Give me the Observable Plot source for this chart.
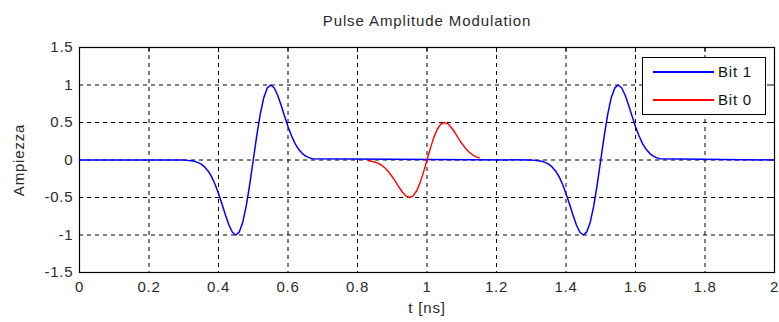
<!DOCTYPE html>
<html>
<head>
<meta charset="utf-8">
<script src="https://cdn.jsdelivr.net/npm/d3@7"></script>
<script src="https://cdn.jsdelivr.net/npm/@observablehq/plot@0.6"></script>
<style>
  html, body { margin: 0; padding: 0; background: #fff; }
  #wrap { position: relative; width: 779px; height: 322px; font-family: "Liberation Sans", Arial, sans-serif; }
  #title { position: absolute; left: 0; width: 854px; top: 12px; text-align: center; font-size: 15px; letter-spacing: 0.9px; color: #2a2a2a; }
  #legend { position: absolute; left: 642px; top: 57px; width: 124px; height: 58px; border: 1px solid #000; background: #fff; box-sizing: border-box; }
  .row { position: absolute; left: 0; height: 20px; width: 100%; }
  .sw { position: absolute; left: 10px; width: 61px; top: 9px; height: 1.5px; }
  .lb { position: absolute; left: 75px; top: 1px; font-size: 15px; letter-spacing: 0.8px; color: #111; }
</style>
</head>
<body>
<div id="wrap">
  <div id="chart"></div>
  <div id="title">Pulse Amplitude Modulation</div>
  <div id="legend"></div>
</div>
<script>
// ---- data ----
const xTicks = [0, 0.2, 0.4, 0.6, 0.8, 1, 1.2, 1.4, 1.6, 1.8, 2];
const yTicks = [-1.5, -1, -0.5, 0, 0.5, 1, 1.5];
const seriesNames = ["Bit 1", "Bit 0"];
const seriesColors = ["#0000ff", "#ff0000"];

// Bit 1 signal (blue): baseline plus two pulses
const bit1T = [0, 0.30,
  0.31, 0.32, 0.33, 0.34, 0.35, 0.36, 0.37, 0.38, 0.39, 0.40, 0.41, 0.42, 0.43, 0.44, 0.45, 0.46, 0.47, 0.48, 0.49,
  0.50, 0.51, 0.52, 0.53, 0.54, 0.55, 0.56, 0.57, 0.58, 0.59, 0.60, 0.61, 0.62, 0.63, 0.64, 0.65, 0.66, 0.67,
  1.30,
  1.31, 1.32, 1.33, 1.34, 1.35, 1.36, 1.37, 1.38, 1.39, 1.40, 1.41, 1.42, 1.43, 1.44, 1.45, 1.46, 1.47, 1.48, 1.49,
  1.50, 1.51, 1.52, 1.53, 1.54, 1.55, 1.56, 1.57, 1.58, 1.59, 1.60, 1.61, 1.62, 1.63, 1.64, 1.65, 1.66, 1.67,
  2];
const bit1Y = [0, 0,
  -0.005, -0.009, -0.017, -0.032, -0.055, -0.092, -0.146, -0.222, -0.323, -0.446, -0.587, -0.733, -0.866, -0.963, -1.0, -0.958, -0.826, -0.609, -0.323,
  0, 0.323, 0.609, 0.826, 0.958, 1.0, 0.963, 0.866, 0.733, 0.587, 0.446, 0.323, 0.222, 0.146, 0.092, 0.055, 0.032, 0.017,
  0,
  -0.005, -0.009, -0.017, -0.032, -0.055, -0.092, -0.146, -0.222, -0.323, -0.446, -0.587, -0.733, -0.866, -0.963, -1.0, -0.958, -0.826, -0.609, -0.323,
  0, 0.323, 0.609, 0.826, 0.958, 1.0, 0.963, 0.866, 0.733, 0.587, 0.446, 0.323, 0.222, 0.146, 0.092, 0.055, 0.032, 0.017,
  0];

// Bit 0 pulse (red)
const bit0T = [0.83, 0.84, 0.85, 0.86, 0.87, 0.88, 0.89, 0.90, 0.91, 0.92, 0.93, 0.94, 0.95, 0.96, 0.97, 0.98, 0.99,
  1.00, 1.01, 1.02, 1.03, 1.04, 1.05, 1.06, 1.07, 1.08, 1.09, 1.10, 1.11, 1.12, 1.13, 1.14, 1.15];
const bit0Y = [-0.009, -0.016, -0.027, -0.046, -0.073, -0.111, -0.161, -0.223, -0.293, -0.367, -0.433, -0.482, -0.5, -0.479, -0.413, -0.305, -0.162,
  0, 0.162, 0.305, 0.413, 0.479, 0.5, 0.482, 0.433, 0.367, 0.293, 0.223, 0.161, 0.111, 0.073, 0.046, 0.027];

const bit1 = bit1T.map((t, i) => ({t, v: bit1Y[i]}));
const bit0 = bit0T.map((t, i) => ({t, v: bit0Y[i]}));

const grid = {stroke: "black", strokeOpacity: 1, strokeWidth: 1, strokeDasharray: "4,4"};

const chart = Plot.plot({
  width: 779,
  height: 322,
  marginTop: 47,
  marginRight: 5,
  marginBottom: 50,
  marginLeft: 79,
  style: {fontFamily: "Liberation Sans, Arial, sans-serif", fontSize: "15px", letterSpacing: "0.8px", color: "#2a2a2a", background: "white"},
  x: {domain: [0, 2]},
  y: {domain: [-1.5, 1.5]},
  marks: [
    Plot.gridX(xTicks, grid),
    Plot.gridY(yTicks, grid),
    Plot.axisX(xTicks, {anchor: "top", tickSize: -4, tickFormat: () => "", label: null, stroke: "black"}),
    Plot.axisY(yTicks, {anchor: "right", tickSize: -4, tickFormat: () => "", label: null, stroke: "black"}),
    Plot.axisX(xTicks, {anchor: "bottom", tickSize: 0, tickPadding: 9, tickFormat: d => String(d), fontSize: 15,
      label: "t [ns]", labelAnchor: "center", labelArrow: "none", labelOffset: 40}),
    Plot.axisY(yTicks, {anchor: "left", tickSize: 0, tickPadding: 6, tickFormat: d => String(d), fontSize: 15,
      label: "Ampiezza", labelAnchor: "center", labelArrow: "none", labelOffset: 66}),
    Plot.line(bit1, {x: "t", y: "v", stroke: seriesColors[0], strokeWidth: 1.5}),
    Plot.line(bit0, {x: "t", y: "v", stroke: seriesColors[1], strokeWidth: 1.4}),
    Plot.frame({stroke: "black", strokeWidth: 1.2})
  ]
});
document.getElementById("chart").appendChild(chart);

// legend
const legend = document.getElementById("legend");
seriesNames.forEach((name, i) => {
  const row = document.createElement("div");
  row.className = "row";
  row.style.top = (4 + i * 28) + "px";
  const sw = document.createElement("div");
  sw.className = "sw";
  sw.style.backgroundColor = seriesColors[i];
  const lb = document.createElement("div");
  lb.className = "lb";
  lb.textContent = name;
  row.appendChild(sw);
  row.appendChild(lb);
  legend.appendChild(row);
});
</script>
</body>
</html>
